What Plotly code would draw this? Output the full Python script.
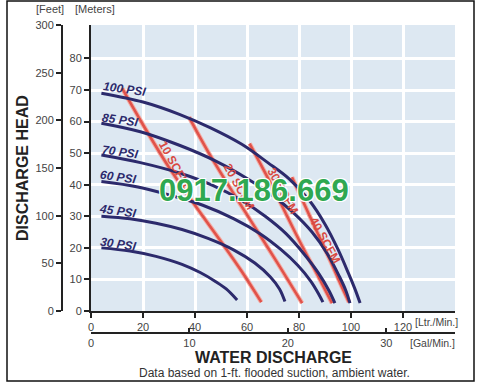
import plotly.graph_objects as go

# ---------------- data ----------------
# flow in L/min, head in meters
psi_labels = ["100 PSI", "85 PSI", "70 PSI", "60 PSI", "45 PSI", "30 PSI"]
psi100_x = [4, 20, 34, 46, 58, 68, 76, 84, 90, 95, 99, 101.5, 103.5]
psi100_y = [69, 66.2, 62.3, 58, 52.8, 47, 42, 35, 27.5, 19.5, 12, 7, 2.5]
psi85_x = [4, 19, 34, 48, 60, 70, 78, 85, 91, 95.5, 98, 99.6]
psi85_y = [59.5, 56.8, 52.5, 47.5, 42, 36.5, 31, 25, 18, 11, 6.5, 2.5]
psi70_x = [4, 19, 34, 47, 58, 67, 75, 82, 87.5, 91.5, 93.8]
psi70_y = [49.4, 47, 43.7, 39.7, 35, 30, 24.5, 18, 12, 6.5, 2.5]
psi60_x = [4, 18, 30, 43, 55, 65, 73, 79.5, 84.5, 87.5, 89.2]
psi60_y = [41, 39.3, 36.8, 33.5, 29.2, 24.5, 19.5, 14.5, 9.5, 5.5, 2.8]
psi45_x = [4, 15, 25, 35, 45, 55, 63, 69, 72.5, 74.6]
psi45_y = [30, 29.2, 27.8, 25.8, 23, 19.3, 15.2, 10.8, 7, 3]
psi30_x = [4, 15, 25, 35, 42, 48, 52, 56.2]
psi30_y = [20, 19, 17.3, 14.8, 12.2, 9.3, 7, 3.5]

scfm_labels = ["10 SCFM", "20 SCFM", "30 SCFM", "40 SCFM"]
scfm10_x = [12, 20, 30, 40, 50, 58, 65.5]
scfm10_y = [70.5, 59, 45.5, 33.5, 22, 12.5, 2.8]
scfm20_x = [37.7, 45, 55, 65, 73, 81.2]
scfm20_y = [61.4, 50.5, 37, 24, 13.5, 2.5]
scfm30_x = [61, 70, 80, 88, 92.7]
scfm30_y = [53, 39, 22.5, 10, 2.5]
scfm40_x = [77.3, 85, 92, 96, 99.2]
scfm40_y = [42.4, 28.5, 16, 8.5, 2.8]

# label anchor positions (L/min, m)
psi_lab_x = [12.7, 11.2, 11.2, 10.4, 10.4, 10.4]
psi_lab_y = [70.3, 60.5, 50.4, 42.5, 31.7, 21.2]
scfm_lab_x = [32.3, 57.1, 73.7, 90]
scfm_lab_y = [46.4, 39.4, 37.9, 22.5]

lpm_ticks = [0, 20, 40, 60, 80, 100, 120]
gpm_ticks = [0, 10, 20, 30]
m_ticks = [0, 10, 20, 30, 40, 50, 60, 70, 80]
ft_ticks = [0, 50, 100, 150, 200, 250, 300]

NAVY = "#2c2a6c"
RED = "#e0524a"
FONT = "Liberation Sans, Arial, sans-serif"

fig = go.Figure()

for xs, ys in [(scfm10_x, scfm10_y), (scfm20_x, scfm20_y), (scfm30_x, scfm30_y), (scfm40_x, scfm40_y)]:
    fig.add_trace(go.Scatter(x=xs, y=ys, mode="lines", line=dict(color="#f4aaa2", width=4.5, shape="spline"),
                             hoverinfo="skip", showlegend=False))
    fig.add_trace(go.Scatter(x=xs, y=ys, mode="lines", line=dict(color=RED, width=2.5, shape="spline"),
                             showlegend=False))

for xs, ys in [(psi100_x, psi100_y), (psi85_x, psi85_y), (psi70_x, psi70_y),
               (psi60_x, psi60_y), (psi45_x, psi45_y), (psi30_x, psi30_y)]:
    fig.add_trace(go.Scatter(x=xs, y=ys, mode="lines", line=dict(color=NAVY, width=3, shape="spline"),
                             showlegend=False))

# dummy traces so the extra axes are drawn
fig.add_trace(go.Scatter(x=[0], y=[0], yaxis="y2", mode="markers", marker=dict(opacity=0),
                         showlegend=False, hoverinfo="skip"))
fig.add_trace(go.Scatter(x=[0], y=[0], xaxis="x2", mode="markers", marker=dict(opacity=0),
                         showlegend=False, hoverinfo="skip"))

for t, x, y in zip(psi_labels, psi_lab_x, psi_lab_y):
    fig.add_annotation(x=x, y=y, text=t, showarrow=False, textangle=8, xanchor="center", yanchor="middle",
                       font=dict(family=FONT, size=12, color=NAVY, weight="bold", style="italic"))
for t, x, y in zip(scfm_labels, scfm_lab_x, scfm_lab_y):
    fig.add_annotation(x=x, y=y, text=t, showarrow=False, textangle=61, xanchor="center", yanchor="middle",
                       font=dict(family=FONT, size=12, color="#d84a42", weight="bold"))

# paper geometry: margin l=40, r=44, t=25, b=47 -> width 415, height 320
def px(xp):
    return (xp - 40) / 415.0

def py(yp):
    return (345 - yp) / 320.0

GRAY = "#444444"

def note(x, y, text, size=11, color=GRAY, **kw):
    fig.add_annotation(xref="paper", yref="paper", x=px(x), y=py(y), text=text, showarrow=False,
                       xanchor="center", yanchor="middle",
                       font=dict(family=FONT, size=size, color=color, **kw.pop("font", {})), **kw)

note(50, 9, "[Feet]")
note(95, 9, "[Meters]")
note(22, 168, "DISCHARGE HEAD", size=16, color="#222222", textangle=-90, font=dict(weight="bold"))
note(273, 357, "WATER DISCHARGE", size=16, color="#222222", font=dict(weight="bold"))
note(274, 373, "Data based on 1-ft. flooded suction, ambient water.", size=12, color="#333333")
note(436, 322, "[Ltr./Min.]", size=10.5)
note(432, 343, "[Gal/Min.]", size=10.5)
note(254, 190, "0917.186.669", size=31, color="#2fa851",
     font=dict(weight="bold", shadow="1px 1px 0 white, -1px -1px 0 white, 1px -1px 0 white, -1px 1px 0 white"))

fig.add_shape(type="rect", xref="paper", yref="paper", x0=px(7), x1=px(474), y0=py(381), y1=py(1),
              line=dict(color="#111111", width=1.5))

tickfont = dict(family=FONT, size=11, color=GRAY)
fig.update_layout(
    width=499, height=392,
    margin=dict(l=40, r=44, t=25, b=47, autoexpand=False),
    paper_bgcolor="white",
    plot_bgcolor="#dde8f2",
    xaxis=dict(domain=[px(91), 1], range=[0, 140], tickvals=lpm_ticks, showgrid=True, gridcolor="white",
               gridwidth=2.5, zeroline=False, showline=True, linecolor="#222222", linewidth=2,
               ticks="outside", ticklen=5, tickwidth=2, tickcolor="#222222", tickfont=tickfont, anchor="y",
               automargin=False),
    xaxis2=dict(overlaying="x", anchor="free", position=py(333), side="bottom", range=[0, 140 / 3.7854],
                tickvals=gpm_ticks, showgrid=False, zeroline=False, showline=True, linecolor="#222222",
                linewidth=2, ticks="inside", ticklen=4, tickwidth=2, tickcolor="#222222", tickfont=tickfont,
                automargin=False),
    yaxis=dict(domain=[py(311), 1], range=[0, 90.6], tickvals=m_ticks, showgrid=True, gridcolor="white",
               gridwidth=2.5, zeroline=False, showline=True, linecolor="#222222", linewidth=2,
               ticks="outside", ticklen=5, tickwidth=2, tickcolor="#222222", tickfont=tickfont, anchor="x",
               automargin=False),
    yaxis2=dict(overlaying="y", anchor="free", position=px(62), side="left", range=[0, 300],
                tickvals=ft_ticks, showgrid=False, zeroline=False, showline=True, linecolor="#222222",
                linewidth=2, ticks="outside", ticklen=5, tickwidth=2, tickcolor="#222222", tickfont=tickfont,
                automargin=False),
)

fig.write_html("out.html", config={"displayModeBar": False},
               post_script="document.body.style.margin='0px';document.body.style.overflow='hidden';")
